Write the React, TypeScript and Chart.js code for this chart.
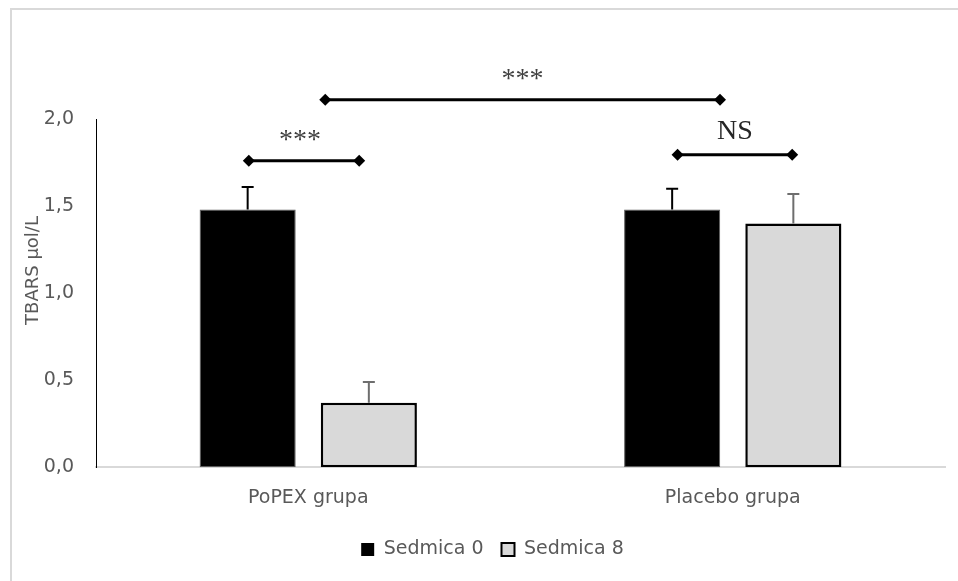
import React, { useEffect, useRef } from "react";
import { Chart, registerables } from "chart.js";

Chart.register(...registerables);

// Groups and measured TBARS means (µmol/L) with standard deviations
const categories = ["PoPEX grupa", "Placebo grupa"];
const week0Values = [1.48, 1.48];
const week8Values = [0.37, 1.4];
const week0Sd = [0.13, 0.12];
const week8Sd = [0.12, 0.17];
const seriesLabels = ["Sedmica 0", "Sedmica 8"];
const yTicks = [0, 0.5, 1.0, 1.5, 2.0];
const yTitle = "TBARS µol/L";

// Significance brackets: x positions on the category axis, y in data units
const bracketFrom = [-0.14, 0.04, 0.87];
const bracketTo = [0.12, 0.97, 1.14];
const bracketLevel = [1.76, 2.11, 1.795];
const bracketText = ["***", "***", "NS"];

const FONT = "'DejaVu Sans', 'Open Sans', sans-serif";
const SERIF = "'Liberation Serif', 'DejaVu Serif', serif";
const TEXT = "#595959";

const frame = {
  id: "frame",
  beforeDraw(chart: any) {
    const { ctx, width, height } = chart;
    ctx.save();
    ctx.fillStyle = "#ffffff";
    ctx.fillRect(0, 0, width, height);
    ctx.strokeStyle = "#d9d9d9";
    ctx.lineWidth = 2;
    ctx.beginPath();
    ctx.moveTo(11, height);
    ctx.lineTo(11, 9);
    ctx.lineTo(width, 9);
    ctx.stroke();
    ctx.restore();
  },
};

// Vertical axis title, placed slightly above the middle of the value axis
const axisTitle = {
  id: "axisTitle",
  afterDraw(chart: any) {
    const { ctx } = chart;
    const y = chart.scales.y;
    ctx.save();
    ctx.translate(33, y.getPixelForValue(1.13));
    ctx.rotate(-Math.PI / 2);
    ctx.font = `18px ${FONT}`;
    ctx.fillStyle = TEXT;
    ctx.textAlign = "center";
    ctx.textBaseline = "middle";
    ctx.fillText(yTitle, 0, 0);
    ctx.restore();
  },
};

const errorBars = {
  id: "errorBars",
  afterDatasetsDraw(chart: any) {
    const { ctx } = chart;
    const y = chart.scales.y;
    const sds = [week0Sd, week8Sd];
    const colors = ["#000000", "#6e6e6e"];
    ctx.save();
    chart.data.datasets.forEach((ds: any, di: number) => {
      const meta = chart.getDatasetMeta(di);
      meta.data.forEach((bar: any, i: number) => {
        const top = y.getPixelForValue(ds.data[i]);
        const end = y.getPixelForValue(ds.data[i] + sds[di][i]);
        ctx.strokeStyle = colors[di];
        ctx.lineWidth = 2;
        ctx.beginPath();
        ctx.moveTo(bar.x, top);
        ctx.lineTo(bar.x, end);
        ctx.moveTo(bar.x - 6, end);
        ctx.lineTo(bar.x + 6, end);
        ctx.stroke();
      });
    });
    ctx.restore();
  },
};

const brackets = {
  id: "brackets",
  afterDraw(chart: any) {
    const { ctx } = chart;
    const x = chart.scales.x;
    const y = chart.scales.y;
    ctx.save();
    bracketLevel.forEach((lvl, i) => {
      const x1 = x.getPixelForValue(bracketFrom[i]);
      const x2 = x.getPixelForValue(bracketTo[i]);
      const py = y.getPixelForValue(lvl);
      ctx.strokeStyle = "#000000";
      ctx.lineWidth = 3;
      ctx.beginPath();
      ctx.moveTo(x1, py);
      ctx.lineTo(x2, py);
      ctx.stroke();
      ctx.fillStyle = "#000000";
      [x1, x2].forEach((px) => {
        ctx.beginPath();
        ctx.moveTo(px - 6, py);
        ctx.lineTo(px, py - 6);
        ctx.lineTo(px + 6, py);
        ctx.lineTo(px, py + 6);
        ctx.closePath();
        ctx.fill();
      });
      const isStars = bracketText[i] === "***";
      ctx.font = `28px ${SERIF}`;
      ctx.fillStyle = isStars ? "#404040" : "#262626";
      ctx.textAlign = "center";
      ctx.textBaseline = "alphabetic";
      const ty = py - (isStars ? 13 : 16);
      ctx.fillText(bracketText[i], (x1 + x2) / 2 + (isStars && i === 0 ? -4 : 0), ty);
    });
    ctx.restore();
  },
};

export default function App() {
  const ref = useRef<HTMLCanvasElement>(null);

  useEffect(() => {
    if (!ref.current) return;
    const chart = new Chart(ref.current, {
      type: "bar",
      data: {
        labels: categories,
        datasets: [
          {
            label: seriesLabels[0],
            data: week0Values,
            backgroundColor: "#000000",
            borderColor: "#595959",
            borderWidth: 1,
            borderSkipped: false,
          },
          {
            label: seriesLabels[1],
            data: week8Values,
            backgroundColor: "#d9d9d9",
            borderColor: "#000000",
            borderWidth: 2.5,
            borderSkipped: false,
          },
        ],
      },
      plugins: [frame, errorBars, brackets, axisTitle],
      options: {
        animation: false,
        responsive: false,
        maintainAspectRatio: false,
        layout: { padding: { left: 40, right: 13, top: 119, bottom: 12 } },
        datasets: {
          bar: { categoryPercentage: 0.571, barPercentage: 0.793 },
        },
        plugins: {
          tooltip: { enabled: false },
          legend: {
            position: "bottom",
            labels: {
              boxWidth: 13,
              boxHeight: 13,
              color: TEXT,
              font: { family: FONT, size: 19 },
              padding: 18,
              generateLabels: () =>
                seriesLabels.map((t, i) => ({
                  text: t,
                  fillStyle: i === 0 ? "#000000" : "#d9d9d9",
                  strokeStyle: "#000000",
                  lineWidth: i === 0 ? 0 : 2,
                  fontColor: TEXT,
                  hidden: false,
                  datasetIndex: i,
                })),
            },
          },
        },
        scales: {
          x: {
            grid: { display: false, drawTicks: false },
            border: { color: "#d9d9d9", width: 2 },
            ticks: {
              color: TEXT,
              font: { family: FONT, size: 19, lineHeight: 0.46 },
              padding: 26,
            },
            afterFit: (axis: any) => {
              axis.height = axis.height - 6;
            },
          },
          y: {
            min: 0,
            max: 2,
            afterBuildTicks: (axis: any) => {
              axis.ticks = yTicks.map((v) => ({ value: v }));
            },
            grid: { display: false, drawTicks: false },
            border: { color: "#000000", width: 1 },
            ticks: {
              color: TEXT,
              font: { family: FONT, size: 19 },
              padding: 22,
              callback: (v: any) => Number(v).toFixed(1).replace(".", ","),
            },
            afterFit: (axis: any) => {
              axis.width = 56;
            },
          },
        },
      },
    });
    return () => chart.destroy();
  }, []);

  return (
    <div style={{ position: "fixed", left: 0, top: 0, width: 958, height: 581 }}>
      <canvas ref={ref} width={958} height={581} style={{ display: "block" }} />
    </div>
  );
}
